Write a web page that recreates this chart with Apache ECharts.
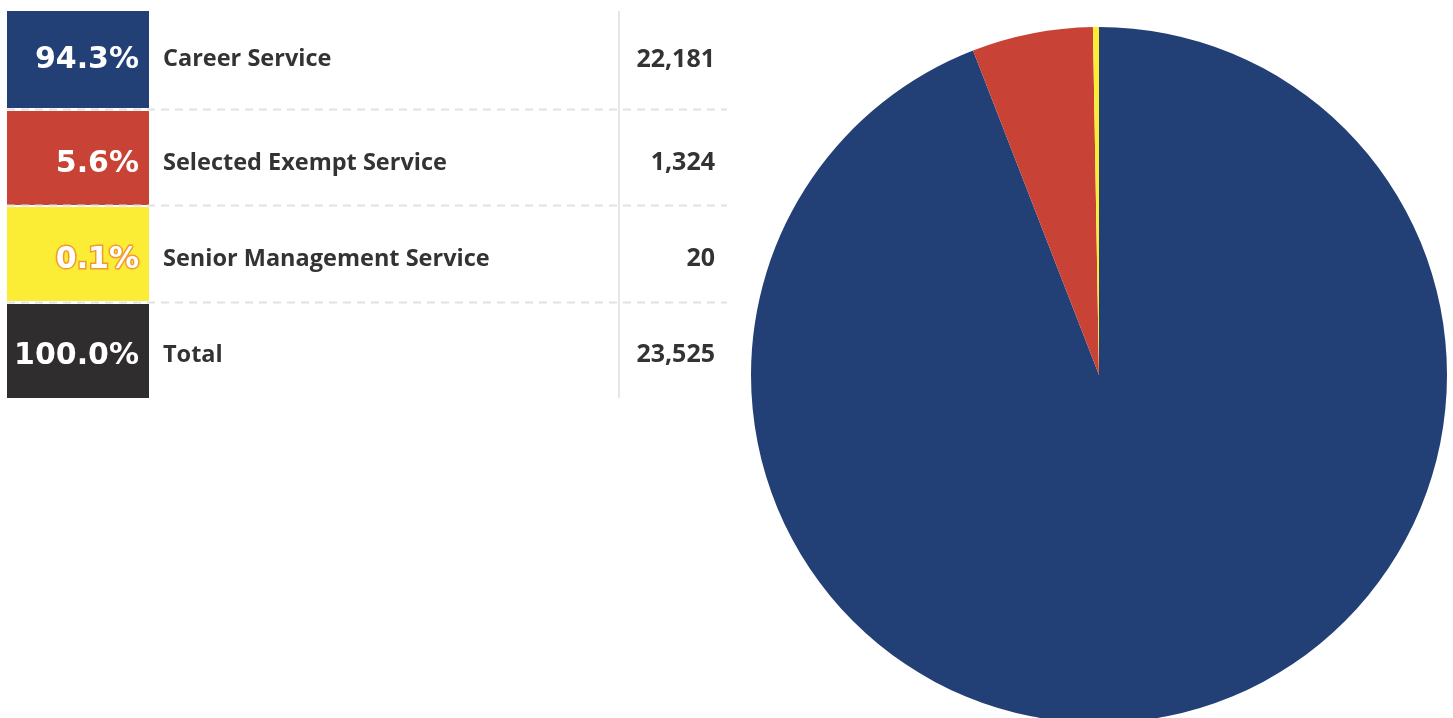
<!DOCTYPE html>
<html>
<head>
<meta charset="utf-8">
<script src="https://cdn.jsdelivr.net/npm/echarts@6/dist/echarts.min.js"></script>
<style>
html,body{margin:0;padding:0;background:#fff;}
#chart{width:1453px;height:718px;}
</style>
</head>
<body>
<div id="chart"></div>
<script>
const categories = ['Career Service', 'Selected Exempt Service', 'Senior Management Service'];
const values = [22181, 1324, 20];
const percentLabels = ['94.3%', '5.6%', '0.1%'];
const valueLabels = ['22,181', '1,324', '20'];
const totalLabel = 'Total';
const totalPercent = '100.0%';
const totalValue = '23,525';
const colors = ['#223f76', '#c84335', '#fbec35'];
const totalColor = '#2f2d2e';

const chart = echarts.init(document.getElementById('chart'));

const rows = categories.map((c, i) => ({ name: c, pct: percentLabels[i], val: valueLabels[i], color: colors[i] }));
rows.push({ name: totalLabel, pct: totalPercent, val: totalValue, color: totalColor });

const rowTops = [11, 111, 207, 304];
const rowHeights = [97, 94, 94, 94];
const textY = [59.5, 163, 259, 355];
const graphics = [];
const labelFont = '"Open Sans", sans-serif';
const pctFont = '"DejaVu Sans", sans-serif';

rows.forEach((r, i) => {
  const top = rowTops[i];
  const h = rowHeights[i];
  const ty = textY[i];
  graphics.push({ type: 'rect', shape: { x: 7, y: top, width: 142, height: h }, style: { fill: r.color }, silent: true });
  const isYellow = i === 2;
  graphics.push({
    type: 'text', x: 139, y: ty + 1,
    style: {
      text: r.pct, fill: '#ffffff', font: 'bold 30px ' + pctFont,
      align: 'right', verticalAlign: 'middle',
      stroke: isYellow ? '#f29a2e' : null, lineWidth: isYellow ? 3 : 0
    }, silent: true, z: 5
  });
  graphics.push({
    type: 'text', x: 163, y: ty,
    style: { text: r.name, fill: '#333333', font: 'bold 23.5px ' + labelFont, align: 'left', verticalAlign: 'middle' }, silent: true
  });
  graphics.push({
    type: 'text', x: 715, y: ty,
    style: { text: r.val, fill: '#333333', font: 'bold 25px ' + labelFont, align: 'right', verticalAlign: 'middle' }, silent: true
  });
  if (i < 3) {
    const ly = rowTops[i + 1] - 1.5;
    graphics.push({
      type: 'line', shape: { x1: 7, y1: ly, x2: 727, y2: ly },
      style: { stroke: '#e2e2e2', lineWidth: 2, lineDash: [8, 6] }, silent: true, z: 4
    });
  }
});
graphics.push({
  type: 'line', shape: { x1: 619, y1: 11, x2: 619, y2: 398 },
  style: { stroke: '#e6e6e6', lineWidth: 2 }, silent: true, z: 3
});

chart.setOption({
  animation: false,
  backgroundColor: '#ffffff',
  graphic: graphics,
  series: [{
    type: 'pie',
    center: [1099, 375],
    radius: 348,
    startAngle: 90,
    clockwise: true,
    minAngle: 1,
    label: { show: false },
    labelLine: { show: false },
    emphasis: { disabled: true },
    itemStyle: { borderWidth: 0 },
    data: categories.map((c, i) => ({ name: c, value: values[i], itemStyle: { color: colors[i] } }))
  }]
});
</script>
</body>
</html>
